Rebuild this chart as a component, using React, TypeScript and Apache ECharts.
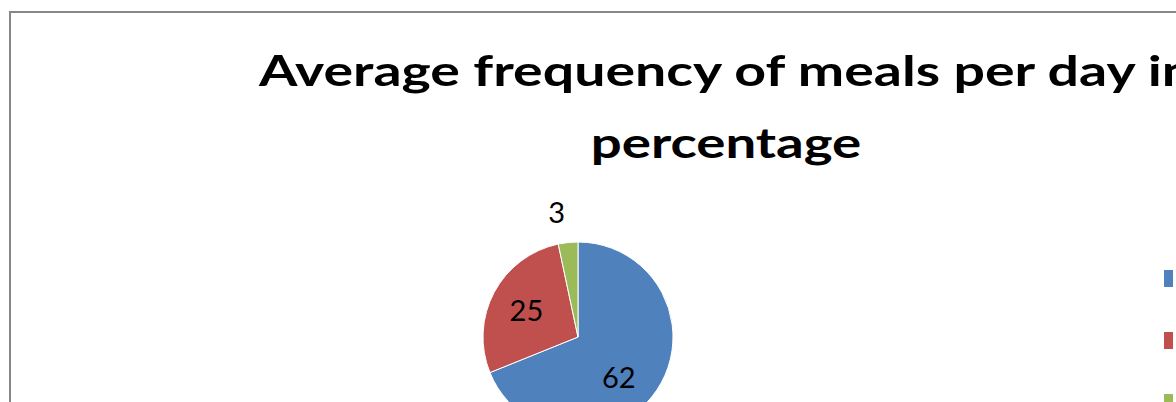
import React, { useEffect, useRef } from "react";
import * as echarts from "echarts";

// Share of respondents by number of meals eaten per day (%)
const categories = ["3 times", "2 times", "4 times"];
const shares = [62, 25, 3];
const sliceColors = ["#4F81BD", "#C0504D", "#9BBB59"];
const titleLines = ["Average frequency of meals per day in", "percentage"];

// Nudges that move each value label to its best-fit spot
const labelNudge: [number, number][] = [
  [-1, 11],
  [-7, -4],
  [-16, -75],
];

export default function App() {
  const ref = useRef<HTMLDivElement>(null);

  useEffect(() => {
    if (!ref.current) return;
    const chart = echarts.init(ref.current, undefined, { renderer: "svg" });
    const titleStyle = {
      fontFamily: "Lato",
      fontWeight: "bold",
      fontSize: 42,
      fill: "#000000",
      align: "center",
      verticalAlign: "middle",
    };
    chart.setOption({
      animation: false,
      backgroundColor: "#ffffff",
      graphic: [
        {
          type: "rect",
          shape: { x: 10, y: 12, width: 1300, height: 600 },
          style: { fill: "none", stroke: "#878787", lineWidth: 2 },
          silent: true,
        },
        {
          type: "text",
          x: 726,
          y: 69,
          scaleX: 1.32,
          style: { ...titleStyle, text: titleLines[0] },
          silent: true,
        },
        {
          type: "text",
          x: 726,
          y: 142,
          scaleX: 1.3,
          style: { ...titleStyle, text: titleLines[1] },
          silent: true,
        },
      ],
      legend: {
        orient: "vertical",
        left: 1162,
        top: 268,
        height: 240,
        padding: 0,
        itemWidth: 11,
        itemHeight: 19,
        itemGap: 41,
        icon: "rect",
        formatter: () => "",
        textStyle: { fontSize: 14, padding: 0 },
        data: categories,
      },
      series: [
        {
          type: "pie",
          center: [578, 337],
          radius: 95,
          startAngle: 90,
          clockwise: true,
          data: categories.map((name, i) => ({
            name,
            value: shares[i],
            itemStyle: { color: sliceColors[i] },
          })),
          itemStyle: { borderColor: "#ffffff", borderWidth: 1 },
          label: {
            show: true,
            position: "inside",
            formatter: "{c}",
            fontFamily: "Lato",
            fontSize: 29,
            color: "#000000",
          },
          labelLine: { show: false },
          labelLayout: (params: any) => ({
            dx: labelNudge[params.dataIndex][0],
            dy: labelNudge[params.dataIndex][1],
          }),
          emphasis: { disabled: true },
        },
      ],
    });
    return () => chart.dispose();
  }, []);

  return (
    <div
      ref={ref}
      style={{ position: "absolute", left: 0, top: 0, width: 1176, height: 402 }}
    />
  );
}
